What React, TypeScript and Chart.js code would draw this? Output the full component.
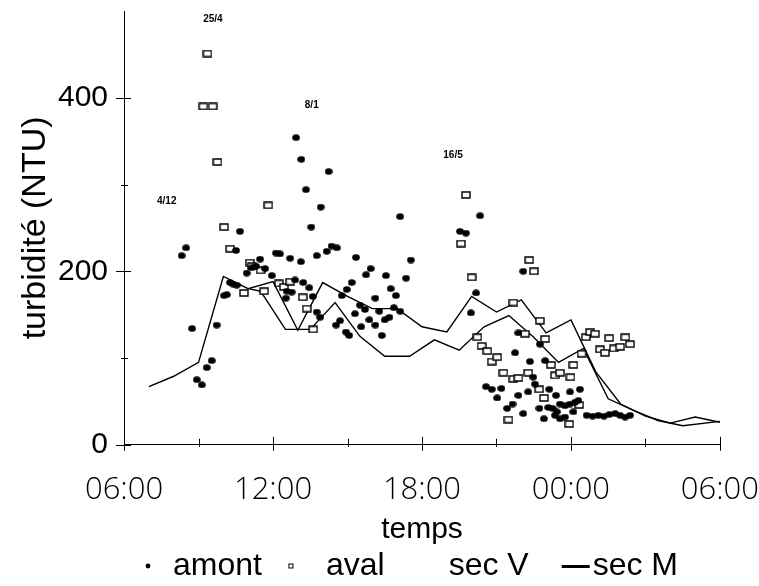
import React, { useEffect, useRef } from 'react';
import { Chart, registerables } from 'chart.js';

Chart.register(...registerables);

// ---- data (x in hours from 06:00 of day 1, 30 = 06:00 next day) ----
const amontX = [8.32, 8.5, 8.74, 8.93, 9.13, 9.33, 9.53, 9.73, 10.03, 10.14, 10.27, 10.4, 10.51, 10.54, 10.67, 10.94, 11.14, 11.31, 11.48, 11.68, 11.95, 12.12, 12.28, 12.52, 12.55, 12.69, 12.75, 12.89, 12.93, 13.12, 13.14, 13.22, 13.33, 13.46, 13.54, 13.6, 13.76, 13.76, 13.9, 13.92, 14.16, 14.24, 14.36, 14.54, 14.57, 14.7, 14.77, 14.94, 14.97, 15.07, 15.17, 15.3, 15.34, 15.5, 15.55, 15.7, 15.75, 15.88, 15.93, 16.12, 16.12, 16.28, 16.38, 16.5, 16.55, 16.69, 16.74, 16.87, 16.95, 17.12, 17.12, 17.36, 17.55, 19.53, 19.77, 19.97, 20.18, 20.34, 20.58, 20.81, 21.03, 21.2, 21.43, 21.65, 21.75, 21.88, 21.88, 22.08, 22.08, 22.28, 22.35, 22.48, 22.55, 22.73, 22.75, 22.91, 22.96, 23.09, 23.13, 23.26, 23.36, 23.4, 23.43, 23.56, 23.56, 23.76, 23.76, 23.96, 23.96, 24.1, 24.16, 24.3, 24.36, 24.63, 24.87, 25.1, 25.33, 25.55, 25.78, 25.98, 26.18, 26.38];
const amontY = [218, 227, 134, 75, 69, 89, 97, 138, 172, 173, 187, 185, 224, 184, 246, 198, 204, 206, 214, 203, 195, 221, 220, 169, 177, 215, 176, 190, 354, 211, 329, 187, 294, 181, 251, 171, 218, 153, 147, 274, 223, 315, 229, 138, 227, 143, 172, 130, 179, 126, 187, 151, 216, 161, 136, 156, 196, 144, 203, 138, 169, 154, 126, 144, 195, 147, 180, 158, 172, 154, 263, 192, 213, 246, 244, 152, 175, 264, 67, 64, 54, 65, 42, 47, 106, 129, 57, 200, 36, 61, 96, 78, 70, 42, 116, 30, 97, 43, 64, 42, 34, 57, 38, 47, 30, 45, 32, 61, 47, 38, 49, 51, 64, 34, 33, 34, 33, 35, 36, 34, 32, 34];

const avalX = [9.19, 9.36, 9.57, 9.76, 10.03, 10.27, 10.83, 11.07, 11.15, 11.5, 11.64, 11.81, 12.24, 12.44, 12.69, 13.2, 13.36, 13.62, 19.57, 19.77, 20.0, 20.23, 20.4, 20.63, 20.81, 21.03, 21.28, 21.48, 21.68, 21.68, 21.88, 22.15, 22.28, 22.32, 22.51, 22.72, 22.75, 22.91, 22.96, 23.2, 23.36, 23.56, 23.93, 23.98, 24.1, 24.33, 24.43, 24.6, 24.77, 24.97, 25.17, 25.37, 25.54, 25.73, 25.98, 26.19, 26.38];
const avalY = [390, 451, 390, 326, 251, 226, 175, 210, 206, 201, 177, 276, 186, 182, 188, 170, 157, 133, 232, 288, 193, 124, 114, 108, 96, 101, 83, 29, 164, 76, 77, 128, 83, 213, 200, 64, 143, 54, 122, 92, 80, 83, 24, 78, 92, 46, 105, 124, 130, 128, 110, 106, 123, 111, 113, 124, 116];

const secVX = [7, 8, 9, 10, 11, 12, 13, 14, 15, 16, 17, 18, 19, 20, 21, 22, 23, 24, 25, 26, 27, 28, 29, 30];
const secVY = [67, 79, 95, 194, 180, 188, 132, 187, 171, 157, 157, 136, 130, 171, 153, 167, 129, 144, 84, 47, 33, 25, 32, 26];

const secMX = [11, 11.5, 12.5, 13.5, 14.5, 15.5, 16.5, 17.5, 18.5, 19.5, 20.5, 21.5, 22.5, 23.5, 24.5, 25.5, 26.5, 27.5, 28.5, 30];
const secMY = [180, 177, 133, 133, 164, 125, 102, 102, 121, 109, 136, 149, 124, 95, 111, 53, 40, 28, 22, 27];

const seriesNames = ['amont', 'aval', 'sec V', 'sec M'];

const noteText = ['4/12', '25/4', '8/1', '16/5'];
const noteX = [7.72, 9.58, 13.56, 19.25];
const noteY = [281, 490, 391, 334];

const xMin = 6;
const xMax = 30;
const xStep = 3;
const xLabelEvery = 6;
const yMin = 0;
const yMax = 500;
const yStep = 100;
const yLabelEvery = 200;
const xTitle = 'temps';
const yTitle = 'turbidité (NTU)';

// ---- styles ----
const SANS = '"Liberation Sans", Arial, Helvetica, sans-serif';
const XTICK_FONT = '"Open Sans", "Noto Sans", "Liberation Sans", sans-serif';
const X_TICK_PAD = 27;
const Y_TICK_PAD = 16;
const LEGEND_DX = 29;
const LEGEND_DY = -22;

function toPoints(xs: number[], ys: number[]) {
  return xs.map((x, i) => ({ x, y: ys[i] }));
}

function makeCanvas(w: number, h: number, draw: (c: CanvasRenderingContext2D) => void) {
  const c = document.createElement('canvas');
  c.width = w;
  c.height = h;
  const ctx = c.getContext('2d')!;
  draw(ctx);
  return c;
}

function pad2(n: number) {
  return (n < 10 ? '0' : '') + n;
}

const crossTicks = {
  id: 'crossTicks',
  afterDraw(chart: any) {
    const { ctx, chartArea } = chart;
    const xs = chart.scales.x;
    const ys = chart.scales.y;
    ctx.save();
    ctx.strokeStyle = '#000';
    ctx.lineWidth = 1;
    ctx.beginPath();
    xs.ticks.forEach((t: any) => {
      const px = Math.round(xs.getPixelForValue(t.value)) + 0.5;
      const major = t.value % xLabelEvery === 0;
      const up = major ? 8 : 6;
      const down = major ? 6 : 2;
      ctx.moveTo(px, chartArea.bottom - up);
      ctx.lineTo(px, chartArea.bottom + down);
    });
    ys.ticks.forEach((t: any) => {
      const py = Math.round(ys.getPixelForValue(t.value)) + 0.5;
      const major = t.value % yLabelEvery === 0;
      const l = major ? 8 : 3;
      const r = major ? 7 : 4;
      ctx.moveTo(chartArea.left - l, py);
      ctx.lineTo(chartArea.left + r, py);
    });
    ctx.stroke();
    ctx.restore();
  },
};

const notes = {
  id: 'notes',
  afterDatasetsDraw(chart: any) {
    const { ctx } = chart;
    const xs = chart.scales.x;
    const ys = chart.scales.y;
    ctx.save();
    ctx.fillStyle = '#000';
    ctx.font = 'bold 10px ' + SANS;
    ctx.textAlign = 'center';
    ctx.textBaseline = 'middle';
    noteText.forEach((t, i) => {
      ctx.fillText(t, xs.getPixelForValue(noteX[i]), ys.getPixelForValue(noteY[i]));
    });
    ctx.restore();
  },
};

const legendShift = {
  id: 'legendShift',
  afterLayout(chart: any) {
    const lg = chart.legend;
    if (lg) {
      lg.left += LEGEND_DX;
      lg.right += LEGEND_DX;
      lg.top += LEGEND_DY;
      lg.bottom += LEGEND_DY;
    }
  },
};

export default function App() {
  const ref = useRef<HTMLCanvasElement>(null);

  useEffect(() => {
    if (!ref.current) return;

    const dot = makeCanvas(8, 7, (c) => {
      c.fillStyle = '#000';
      c.beginPath();
      c.ellipse(4, 3.5, 3.8, 3.3, 0, 0, Math.PI * 2);
      c.fill();
    });
    const square = makeCanvas(10, 8, (c) => {
      c.fillStyle = '#fff';
      c.strokeStyle = '#000';
      c.lineWidth = 1.4;
      c.beginPath();
      c.rect(1, 1, 8, 6);
      c.fill();
      c.stroke();
    });
    const legendDot = makeCanvas(6, 6, (c) => {
      c.fillStyle = '#000';
      c.beginPath();
      c.arc(3, 3, 2.4, 0, Math.PI * 2);
      c.fill();
    });
    const legendSquare = makeCanvas(27, 7, (c) => {
      c.strokeStyle = '#000';
      c.lineWidth = 1;
      c.strokeRect(1.5, 1.5, 4, 4);
    });
    const legendBlank = makeCanvas(2, 2, () => {});
    const legendLine = makeCanvas(60, 3, (c) => {
      c.fillStyle = '#000';
      c.fillRect(24, 0, 28, 3);
    });
    const legendMarks = [legendDot, legendSquare, legendBlank, legendLine];

    const chart = new Chart(ref.current, {
      type: 'scatter',
      data: {
        datasets: [
          {
            label: seriesNames[0],
            data: toPoints(amontX, amontY),
            pointStyle: dot as any,
            pointRadius: 3,
            showLine: false,
          },
          {
            label: seriesNames[1],
            data: toPoints(avalX, avalY),
            pointStyle: square as any,
            pointRadius: 3,
            showLine: false,
          },
          {
            label: seriesNames[2],
            data: toPoints(secVX, secVY),
            showLine: true,
            borderColor: '#000',
            borderWidth: 1.4,
            pointRadius: 0,
            fill: false,
          },
          {
            label: seriesNames[3],
            data: toPoints(secMX, secMY),
            showLine: true,
            borderColor: '#000',
            borderWidth: 1.4,
            pointRadius: 0,
            fill: false,
          },
        ],
      },
      options: {
        animation: false,
        responsive: true,
        maintainAspectRatio: false,
        layout: { padding: { top: 11, left: 0, right: 0, bottom: -28 } },
        scales: {
          x: {
            type: 'linear',
            min: xMin,
            max: xMax,
            grid: { display: false, drawTicks: false },
            border: { display: true, color: '#000', width: 1 },
            afterFit: (scale: any) => {
              scale.paddingRight = Math.max(0, scale.paddingRight - X_TICK_PAD);
              scale.paddingLeft = Math.max(0, scale.paddingLeft - X_TICK_PAD);
            },
            ticks: {
              stepSize: xStep,
              autoSkip: false,
              maxRotation: 0,
              padding: X_TICK_PAD,
              color: '#000',
              font: { family: XTICK_FONT, size: 31, weight: '300' as any, lineHeight: 1.2 },
              callback: (v: any) =>
                Number(v) % xLabelEvery === 0 ? pad2(Number(v) % 24) + ':00' : '',
            },
            title: {
              display: true,
              text: xTitle,
              color: '#000',
              font: { family: SANS, size: 30, lineHeight: 0.8 },
              padding: { top: -18, bottom: 0 },
            },
          },
          y: {
            type: 'linear',
            min: yMin,
            max: yMax,
            grid: { display: false, drawTicks: false },
            border: { display: true, color: '#000', width: 1 },
            afterBuildTicks: (scale: any) => {
              scale.ticks = scale.ticks.filter((t: any) => t.value < yMax);
            },
            afterFit: (scale: any) => {
              scale.paddingTop = 0;
              scale.paddingBottom = 0;
            },
            ticks: {
              stepSize: yStep,
              padding: Y_TICK_PAD,
              color: '#000',
              font: { family: SANS, size: 30, lineHeight: 1.2 },
              callback: (v: any) => (Number(v) % yLabelEvery === 0 ? String(v) : ''),
            },
            title: {
              display: true,
              text: yTitle,
              color: '#000',
              font: { family: SANS, size: 34, lineHeight: 1 },
              padding: { top: 19, bottom: -11 },
            },
          },
        },
        plugins: {
          tooltip: { enabled: false },
          legend: {
            display: true,
            position: 'bottom',
            labels: {
              usePointStyle: true,
              boxWidth: 18,
              padding: 30,
              color: '#000',
              font: { family: SANS, size: 32 },
              generateLabels: (ch: any) =>
                ch.data.datasets.map((ds: any, i: number) => ({
                  text: ds.label,
                  fillStyle: '#000',
                  strokeStyle: '#000',
                  lineWidth: 0,
                  hidden: false,
                  datasetIndex: i,
                  pointStyle: legendMarks[i],
                  fontColor: '#000',
                })),
            },
          },
        },
      },
      plugins: [crossTicks, notes, legendShift],
    } as any);

    return () => chart.destroy();
  }, []);

  return (
    <div style={{ position: 'fixed', left: 0, top: 0, width: 759, height: 586, background: '#fff' }}>
      <canvas ref={ref} />
    </div>
  );
}
